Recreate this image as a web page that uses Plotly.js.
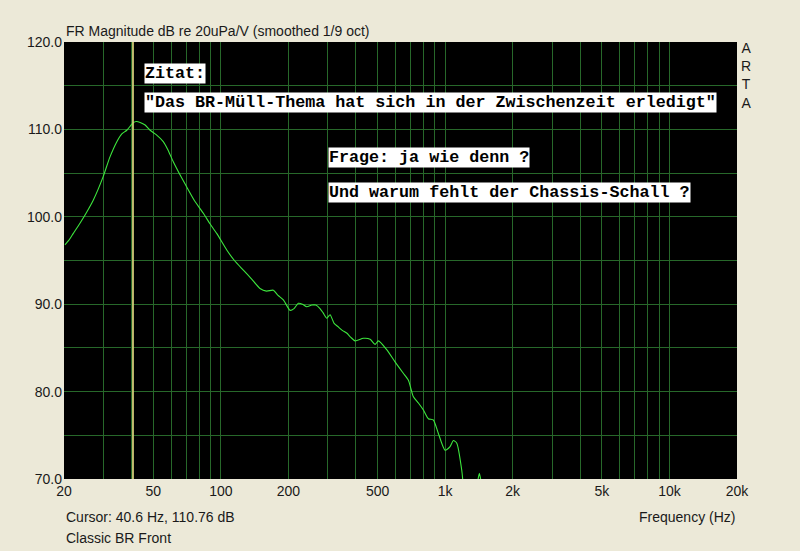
<!DOCTYPE html>
<html>
<head>
<meta charset="utf-8">
<script src="https://cdn.plot.ly/plotly-3.0.1.min.js"></script>
<style>html,body{margin:0;padding:0;background:#ECE9D8;}#chart{width:800px;height:551px;}</style>
</head>
<body>
<div id="chart"></div>
<script>
// Frequency response (smoothed 1/9 oct)
const freqHz = [20.2, 21.0, 22.0, 23.6, 25.2, 27.0, 29.9, 32.0, 34.4, 36.2, 38.1, 40.7, 42.0, 43.7, 46.0, 48.4, 51.5, 55.4, 58.0, 61.4, 65.5, 70.5, 76.5, 83.6, 89.5, 95.9, 106.3, 115, 126, 137, 149.5, 160, 171.5, 180, 190, 203.5, 212, 221.6, 231, 241.6, 254.4, 265, 276.9, 286, 296.8, 307, 320, 334, 348, 364, 380, 397, 432, 463, 487, 504, 549, 598, 651, 686, 722, 760, 800, 842, 886, 933, 999, 1052, 1088, 1127, 1186, 1202, null, 1392, 1421, 1451];
const levelDb = [96.8, 97.3, 98.1, 99.3, 100.5, 101.9, 104.6, 106.8, 108.6, 109.5, 109.9, 110.76, 110.9, 110.8, 110.5, 109.9, 109.4, 108.6, 107.7, 106.3, 104.9, 103.4, 101.8, 100.4, 99.2, 98.1, 96.2, 95.0, 93.9, 92.9, 91.8, 91.5, 91.6, 91.0, 90.5, 89.3, 89.5, 90.1, 90.0, 89.7, 89.9, 89.9, 89.5, 89.0, 88.4, 88.8, 87.8, 87.4, 87.0, 86.7, 86.2, 85.8, 86.1, 86.0, 85.4, 85.8, 84.8, 83.4, 82.1, 81.3, 79.4, 78.7, 77.9, 76.9, 76.75, 75.2, 73.3, 73.7, 74.4, 74.1, 71.0, 69.5, null, 69.5, 70.65, 69.5];

const cursorFreq = 40.6;
const cursorDb = 110.76;

const xGridVals = [20,30,40,50,60,70,80,90,100,200,300,400,500,600,700,800,900,1000,2000,3000,4000,5000,6000,7000,8000,9000,10000,20000];
const xLabelMap = {20:'20',50:'50',100:'100',200:'200',500:'500',1000:'1k',2000:'2k',5000:'5k',10000:'10k',20000:'20k'};
const xTickText = xGridVals.map(v => xLabelMap[v] || '');

const yGridVals = [70,75,80,85,90,95,100,105,110,115,120];
const yTickText = yGridVals.map(v => v % 10 === 0 ? v.toFixed(1) : '');

const traces = [
  {x: freqHz, y: levelDb, type: 'scatter', mode: 'lines', line: {color: '#3de63d', width: 1.1, shape: 'spline', smoothing: 0.6}, connectgaps: false, hoverinfo: 'skip'},
  {x: [cursorFreq, cursorFreq], y: [70, 120], type: 'scatter', mode: 'lines', line: {color: '#d2cd78', width: 1.8}, hoverinfo: 'skip'}
];

const boxFont = {family: 'Liberation Mono, Courier New, monospace', size: 16.7, color: '#000000', weight: 'bold'};
const lblFont = {family: 'Liberation Sans, Arial, sans-serif', size: 14, color: '#1a1a1a'};

function px(x){ return (x - 64) / 673; }
function py(y){ return (479 - y) / 437; }

const layout = {
  width: 800, height: 551,
  paper_bgcolor: '#ECE9D8', plot_bgcolor: '#000000',
  margin: {l: 64, r: 63, t: 42, b: 72},
  showlegend: false,
  xaxis: {
    type: 'log', range: [Math.log10(20), Math.log10(20000)],
    tickmode: 'array', tickvals: xGridVals, ticktext: xTickText,
    showgrid: true, gridcolor: '#27682a', gridwidth: 1,
    zeroline: false, showline: false, ticks: '',
    tickfont: {family: 'Liberation Sans, Arial, sans-serif', size: 14, color: '#1a1a1a'},
    ticklabelstandoff: 2
  },
  yaxis: {
    range: [70, 120],
    tickmode: 'array', tickvals: yGridVals, ticktext: yTickText,
    showgrid: true, gridcolor: '#27682a', gridwidth: 1,
    zeroline: false, showline: false, ticks: '',
    tickfont: {family: 'Liberation Sans, Arial, sans-serif', size: 14, color: '#1a1a1a'},
    ticklabelstandoff: 1
  },
  annotations: [
    {xref: 'paper', yref: 'paper', x: px(64), y: py(31), xanchor: 'left', yanchor: 'middle', showarrow: false,
     text: 'FR Magnitude dB re 20uPa/V (smoothed 1/9 oct)', font: lblFont},
    {xref: 'paper', yref: 'paper', x: px(144), y: py(73), xanchor: 'left', yanchor: 'middle', showarrow: false,
     text: 'Zitat:', font: boxFont, bgcolor: '#ffffff', borderpad: 0},
    {xref: 'paper', yref: 'paper', x: px(144), y: py(102), xanchor: 'left', yanchor: 'middle', showarrow: false,
     text: '"Das BR-Müll-Thema hat sich in der Zwischenzeit erledigt"', font: boxFont, bgcolor: '#ffffff', borderpad: 0},
    {xref: 'paper', yref: 'paper', x: px(328), y: py(157), xanchor: 'left', yanchor: 'middle', showarrow: false,
     text: 'Frage: ja wie denn ?', font: boxFont, bgcolor: '#ffffff', borderpad: 0},
    {xref: 'paper', yref: 'paper', x: px(328), y: py(192), xanchor: 'left', yanchor: 'middle', showarrow: false,
     text: 'Und warum fehlt der Chassis-Schall ?', font: boxFont, bgcolor: '#ffffff', borderpad: 0},
    {xref: 'paper', yref: 'paper', x: px(746), y: py(75), xanchor: 'center', yanchor: 'middle', showarrow: false,
     text: 'A<br>R<br>T<br>A', font: {family: 'Liberation Sans, Arial, sans-serif', size: 14, color: '#1a1a1a'}},
    {xref: 'paper', yref: 'paper', x: px(64), y: py(517), xanchor: 'left', yanchor: 'middle', showarrow: false,
     text: 'Cursor: 40.6 Hz, 110.76 dB', font: lblFont},
    {xref: 'paper', yref: 'paper', x: px(64), y: py(538), xanchor: 'left', yanchor: 'middle', showarrow: false,
     text: 'Classic BR Front', font: lblFont},
    {xref: 'paper', yref: 'paper', x: px(737), y: py(517), xanchor: 'right', yanchor: 'middle', showarrow: false,
     text: 'Frequency (Hz)', font: lblFont}
  ]
};

Plotly.newPlot('chart', traces, layout, {displayModeBar: false, staticPlot: true});
</script>
</body>
</html>
